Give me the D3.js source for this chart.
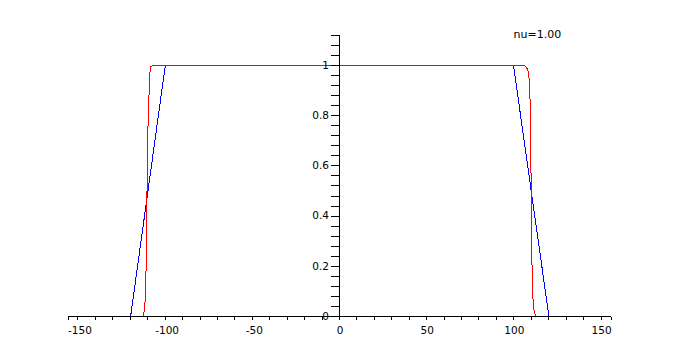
<!DOCTYPE html>
<html>
<head>
<meta charset="utf-8">
<script src="https://cdn.jsdelivr.net/npm/d3@7"></script>
<style>
  html, body { margin: 0; padding: 0; background: #fff; }
  svg { display: block; font-family: "DejaVu Sans", sans-serif; }
</style>
</head>
<body>
<svg id="chart" width="680" height="358"></svg>
<script>
// red curve (steep profile)
let redX = [-155.7, -112.6, -112.0, -111.4, -110.8, -110.4, -110.1, -109.3, -108.9, -108.5, -108.0, -106.7,
            106.3, 107.4, 108.4, 108.8, 109.3, 109.7, 110.1, 110.5, 111.1, 111.8, 112.6, 155.7]
let redY = [0, 0, 0.02, 0.07, 0.22, 0.49, 0.70, 0.87, 0.955, 0.99, 0.997, 1,
            1, 0.99, 0.975, 0.94, 0.86, 0.66, 0.38, 0.15, 0.05, 0.015, 0, 0]

// blue curve (linear ramp)
let blueX = [-155.7, -119.8, -99.9, 99.8, 120.1, 155.7]
let blueY = [0, 0, 1, 1, 0, 0]

let xDomain = [-155.7, 155.7]
let yDomain = [0, 1.12]
let xMinor = d3.range(-150, 151, 10)
let xLabels = [-150, -100, -50, 0, 50, 100, 150]
let yMinor = d3.range(0, 29).map(i => +(i * 0.04).toFixed(2))
let yLabels = [0, 0.2, 0.4, 0.6, 0.8, 1]
let title = "nu=1.00"

let svg = d3.select("#chart")
let x = d3.scaleLinear(xDomain, [67.5, 610.5])
let y = d3.scaleLinear(yDomain, [316, 34.9])

// half pixel so 1px strokes land on whole pixels
let line = d3.line()
    .x(d => x(d[0]) + 0.5)
    .y(d => y(d[1]) + 0.5)

let curves = svg.append("g")
    .attr("fill", "none")
    .attr("stroke-width", 1)
    .attr("shape-rendering", "crispEdges")

curves.append("path")
    .attr("stroke", "#0000ff")
    .attr("d", line(d3.zip(blueX, blueY)))

curves.append("path")
    .attr("stroke", "#ff0000")
    .attr("d", line(d3.zip(redX, redY)))

// x axis
let xAxis = svg.append("g")
    .attr("transform", `translate(0,${y(0)})`)
    .call(d3.axisBottom(x)
        .tickValues(xMinor.concat(xDomain))
        .tickSize(4)
        .tickPadding(7)
        .tickFormat(d => xLabels.includes(d) ? String(d) : ""))
xAxis.select(".domain").attr("d", `M${x(xDomain[0]) + 0.5},0.5H${x(xDomain[1]) + 0.5}`)
xAxis.selectAll(".tick line").attr("y1", 0.5)
xAxis.selectAll(".tick text")
    .attr("dx", d => d < 0 ? 2 : 0.5)

// y axis
let yAxis = svg.append("g")
    .attr("transform", `translate(${x(0)},0)`)
    .call(d3.axisLeft(y)
        .tickValues(yMinor)
        .tickSize(8)
        .tickPadding(2)
        .tickFormat(d => yLabels.includes(d) ? d3.format("~g")(d) : ""))
yAxis.select(".domain").attr("d", `M0.5,${y(yDomain[1]) + 0.5}V${y(0) + 0.5}`)
yAxis.selectAll(".tick line").attr("x1", 0.5)

svg.selectAll(".domain, .tick line")
    .attr("stroke", "#000")
    .attr("shape-rendering", "crispEdges")
svg.selectAll(".tick text")
    .attr("fill", "#000")
    .attr("font-size", "10.5px")
    .attr("font-family", "DejaVu Sans, sans-serif")

svg.append("text")
    .attr("x", 513.5)
    .attr("y", 37.8)
    .attr("font-size", "11px")
    .attr("fill", "#000")
    .text(title)
</script>
</body>
</html>
